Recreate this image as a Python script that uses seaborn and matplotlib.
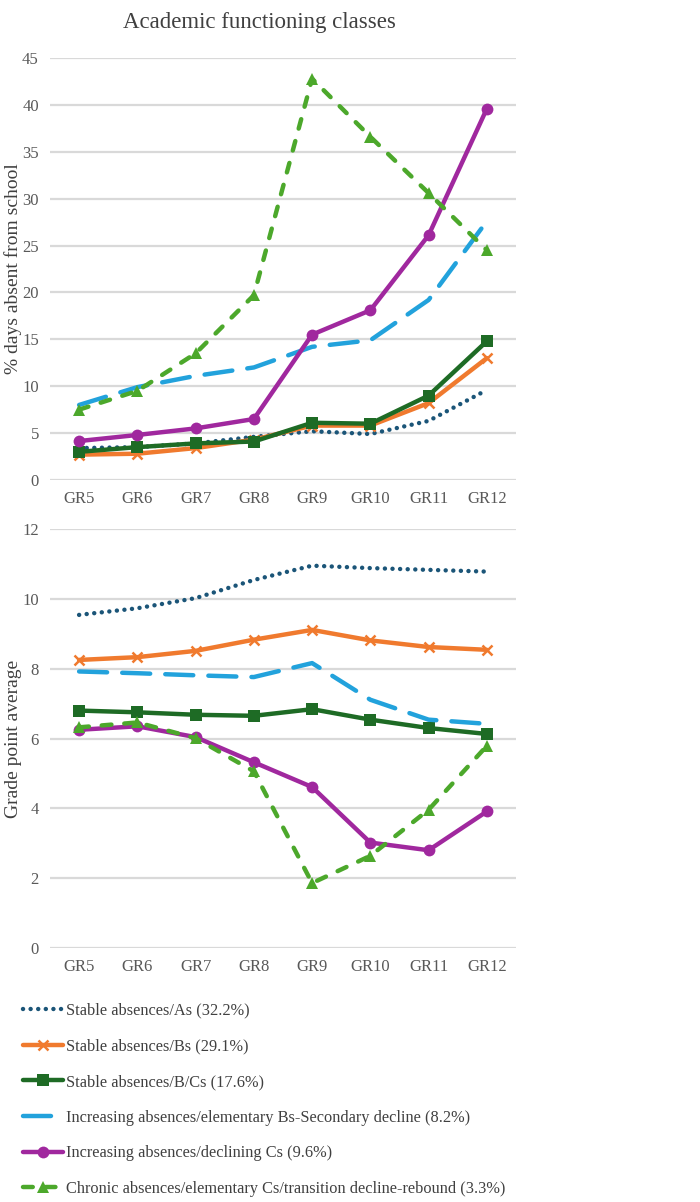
import numpy as np
import pandas as pd
import matplotlib
matplotlib.use('Agg')
import matplotlib.pyplot as plt
import seaborn as sns

# 데이터
grades = ['GR5', 'GR6', 'GR7', 'GR8', 'GR9', 'GR10', 'GR11', 'GR12']
labels = ['Stable absences/As (32.2%)',
          'Stable absences/Bs (29.1%)',
          'Stable absences/B/Cs (17.6%)',
          'Increasing absences/elementary Bs-Secondary decline (8.2%)',
          'Increasing absences/declining Cs (9.6%)',
          'Chronic absences/elementary Cs/transition decline-rebound (3.3%)']

absent_as = [3.4, 3.5, 3.9, 4.6, 5.2, 4.9, 6.3, 9.6]
absent_bs = [2.7, 2.8, 3.4, 4.3, 5.8, 5.8, 8.2, 13.0]
absent_bcs = [3.0, 3.5, 3.9, 4.1, 6.1, 6.0, 9.0, 14.8]
absent_inc_bs = [8.0, 9.9, 11.1, 12.0, 14.2, 14.9, 19.2, 27.6]
absent_inc_cs = [4.15, 4.8, 5.5, 6.5, 15.5, 18.1, 26.1, 39.6]
absent_chronic = [7.5, 9.5, 13.5, 19.7, 42.8, 36.6, 30.6, 24.5]

gpa_as = [9.54, 9.73, 10.02, 10.54, 10.95, 10.88, 10.83, 10.78]
gpa_bs = [8.25, 8.33, 8.51, 8.83, 9.11, 8.81, 8.62, 8.54]
gpa_bcs = [6.80, 6.75, 6.68, 6.65, 6.84, 6.54, 6.30, 6.13]
gpa_inc_bs = [7.92, 7.87, 7.81, 7.76, 8.16, 7.11, 6.54, 6.42]
gpa_inc_cs = [6.25, 6.35, 6.04, 5.32, 4.61, 3.02, 2.80, 3.91]
gpa_chronic = [6.32, 6.46, 6.01, 5.06, 1.86, 2.64, 3.96, 5.79]

absent = [absent_as, absent_bs, absent_bcs, absent_inc_bs, absent_inc_cs, absent_chronic]
gpa = [gpa_as, gpa_bs, gpa_bcs, gpa_inc_bs, gpa_inc_cs, gpa_chronic]

# 스타일
colors = ['#1b5578', '#f07a2e', '#1e6b25', '#22a2dc', '#a0289e', '#4ca82b']
dashes = [(0.01, 1.7), '', '', (6.3, 3.4), '', (2.2, 2.9)]
markers = [None, 'x', 's', None, 'o', '^']
msizes = [0, 7, 8, 0, 8.5, 8.5]

sns.set_style('white')
plt.rcParams['font.family'] = ['Liberation Serif', 'DejaVu Serif']

fig = plt.figure(figsize=(7, 12.02), dpi=100)
ax1 = fig.add_axes([0.0714, 0.6007, 0.6657, 0.351])
ax2 = fig.add_axes([0.0714, 0.2113, 0.6657, 0.3486])


def draw(ax, data, ymax, step, ylabel):
    for i in range(len(data)):
        sns.lineplot(x=grades, y=data[i], ax=ax, color=colors[i], lw=3.2,
                     marker=markers[i], markersize=msizes[i],
                     markeredgewidth=1.8 if markers[i] == 'x' else 0,
                     markeredgecolor=colors[i],
                     dashes=dashes[i], solid_capstyle='round', dash_capstyle='round',
                     sort=False, label=labels[i])
    ax.set_xlim(-0.5, 7.5)
    ax.set_ylim(0, ymax)
    ax.set_yticks(np.arange(0, ymax + 0.1, step))
    ax.grid(axis='y', color='#d9d9d9', lw=1.6)
    ax.set_axisbelow(True)
    for s in ax.spines.values():
        s.set_visible(False)
    ax.tick_params(axis='both', length=0, labelsize=12, colors='#595959', pad=8)
    ax.set_ylabel(ylabel, fontsize=14, color='#404040')
    ax.yaxis.set_label_coords(-0.06, 0.5)
    ax.set_xlabel('')
    ax.get_legend().remove()


draw(ax1, absent, 45, 5, '% days absent from school')
draw(ax2, gpa, 12, 2, 'Grade point average')

fig.suptitle('Academic functioning classes', fontsize=16.5, color='#404040', x=0.37, y=0.99)

handles, lbls = ax1.get_legend_handles_labels()
fig.legend(handles, lbls, loc='upper left', bbox_to_anchor=(0.012, 0.178),
           frameon=False, fontsize=11.8, handlelength=2.45, handletextpad=0.15,
           labelspacing=1.2, labelcolor='#404040')

plt.savefig('out.png', dpi=100)
